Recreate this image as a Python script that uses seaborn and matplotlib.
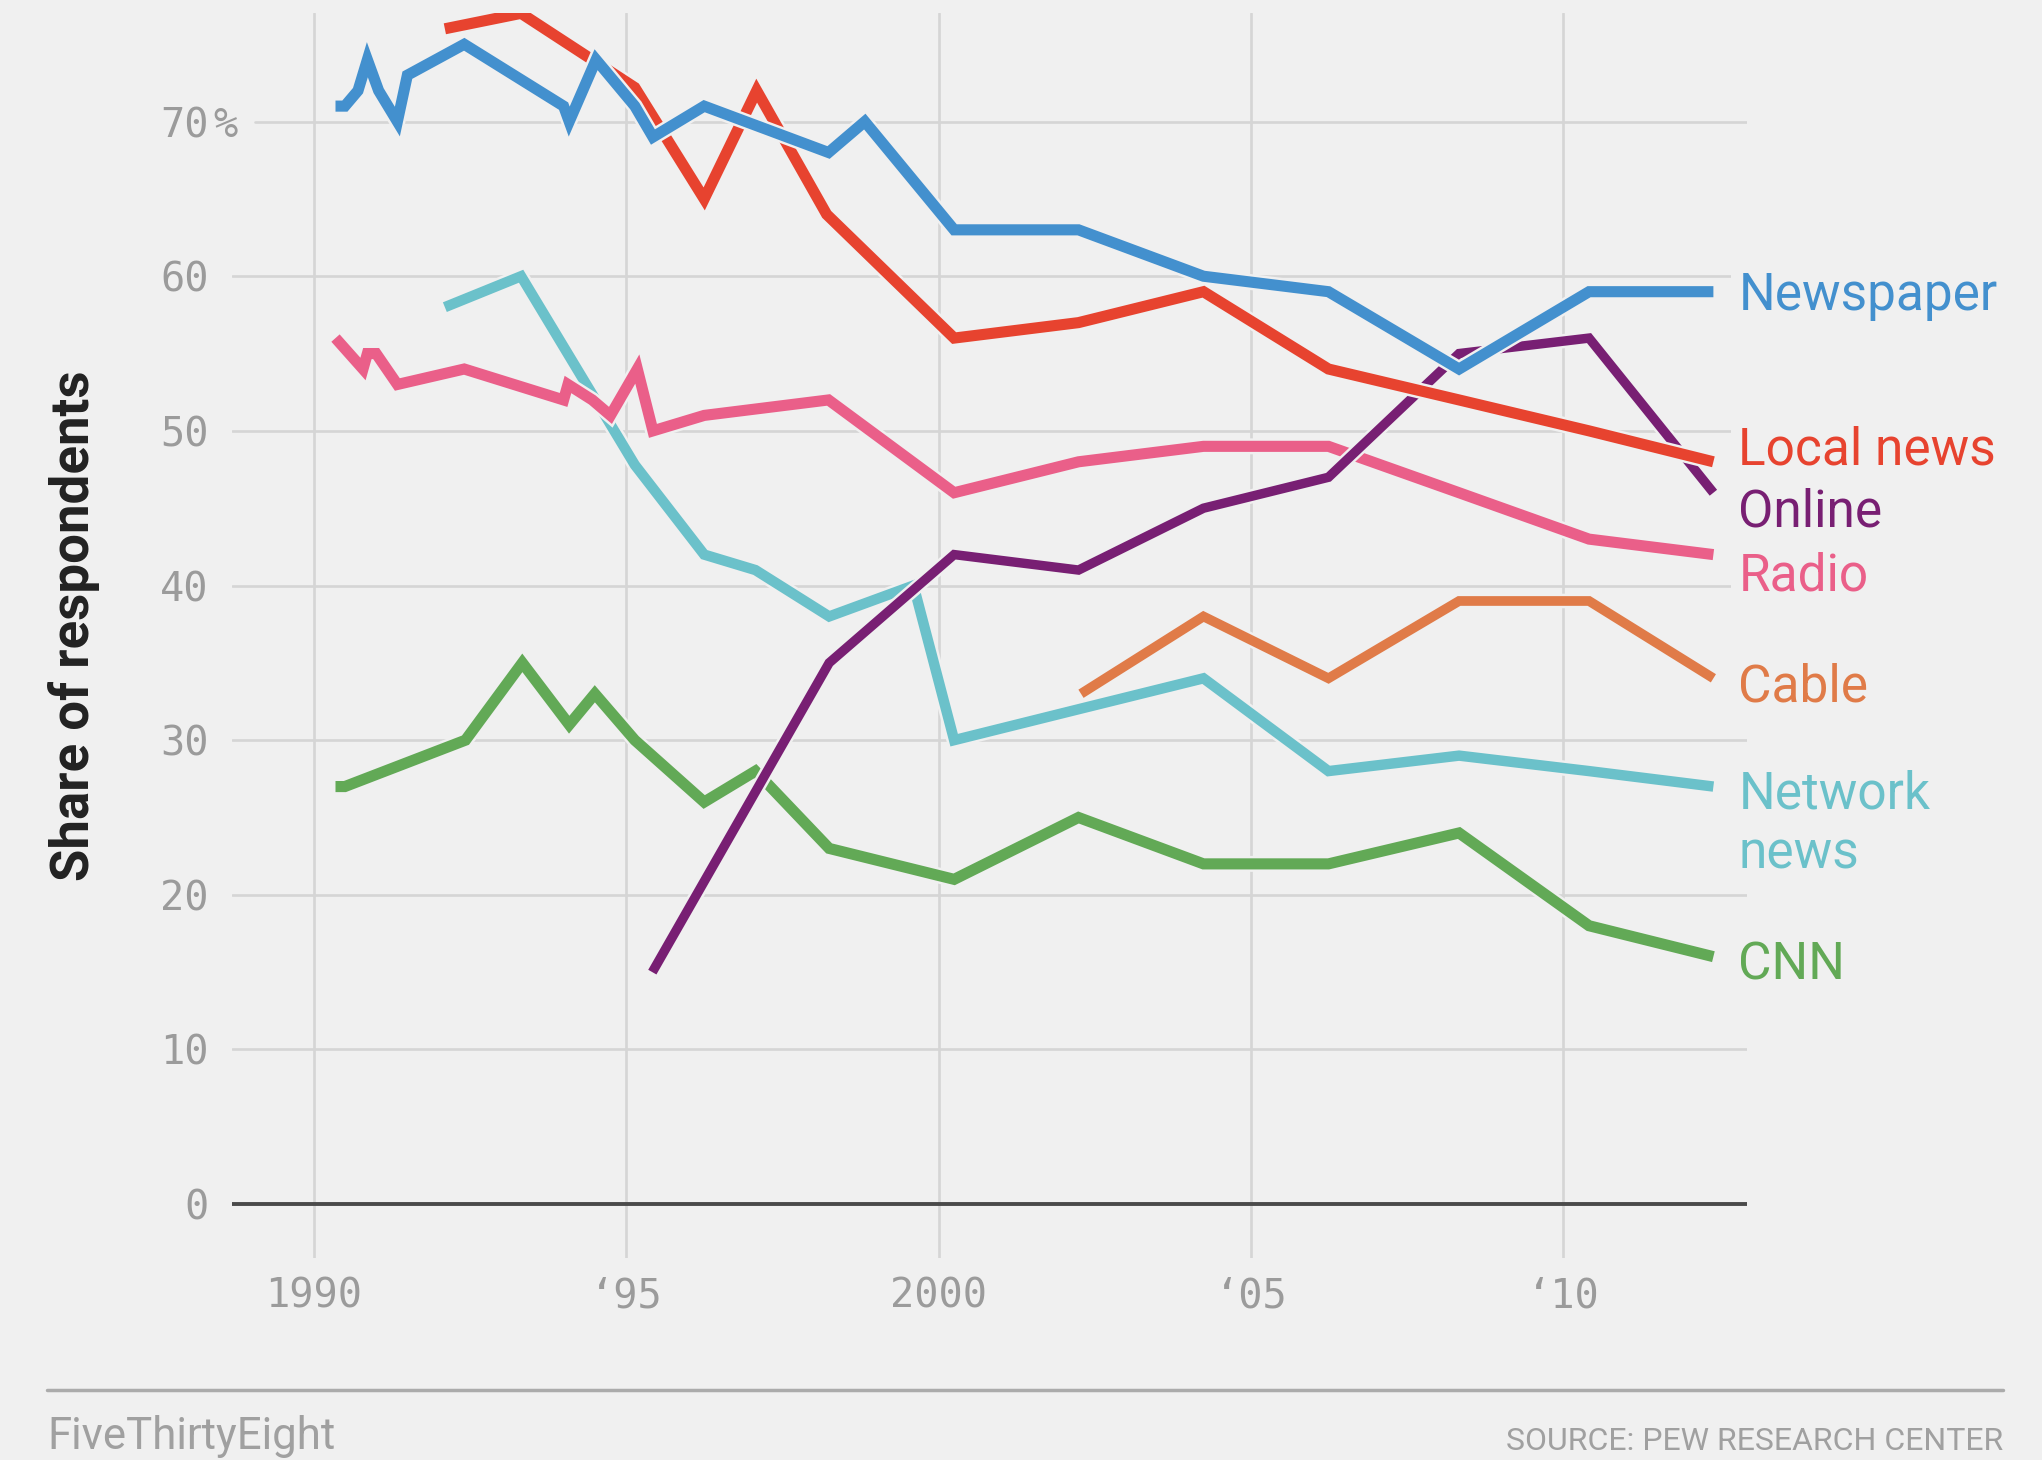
import matplotlib
matplotlib.use('Agg')
import matplotlib.pyplot as plt
import matplotlib.patheffects as pe
from matplotlib import font_manager
from matplotlib.lines import Line2D
import seaborn as sns

# 1. Data (survey date as decimal year, share in %).

newspaper_x = [1990.35, 1990.5, 1990.71, 1990.86, 1991.04, 1991.34, 1991.5, 1992.41, 1994.0,
               1994.09, 1994.52, 1995.14, 1995.43, 1996.25, 1998.24, 1998.82, 2000.25,
               2002.24, 2004.24, 2006.24, 2008.33, 2010.41, 2012.4]
newspaper_y = [71, 71, 72, 74, 72, 70, 73, 75, 71, 70, 74, 71, 69, 71, 68, 70, 63,
               63, 60, 59, 54, 59, 59]

local_x = [1992.1, 1993.32, 1995.14, 1996.25, 1997.09, 1998.21, 2000.25, 2002.24,
           2004.24, 2006.24, 2008.33, 2010.41, 2012.4]
local_y = [76, 77, 72.2, 65, 72, 64, 56, 57, 59, 54, 52, 50, 48]

online_x = [1995.42, 1998.25, 2000.25, 2002.24, 2004.24, 2006.24, 2008.33, 2010.41, 2012.4]
online_y = [15, 35, 42, 41, 45, 47, 55, 56, 46]

radio_x = [1990.35, 1990.79, 1990.86, 1991.0, 1991.34, 1992.41, 1994.0, 1994.07, 1994.46,
           1994.75, 1995.18, 1995.43, 1996.25, 1998.24, 2000.25, 2002.24, 2004.24,
           2006.24, 2008.33, 2010.41, 2012.4]
radio_y = [56, 54, 55, 55, 53, 54, 52, 53, 52, 51, 54, 50, 51, 52, 46, 48, 49, 49, 46, 43, 42]

cable_x = [2002.28, 2004.24, 2006.24, 2008.33, 2010.41, 2012.4]
cable_y = [33, 38, 34, 39, 39, 34]

network_x = [1992.1, 1993.32, 1995.14, 1996.25, 1997.07, 1998.25, 1999.6, 2000.25,
             2002.24, 2004.24, 2006.24, 2008.33, 2010.41, 2012.4]
network_y = [58, 60, 47.8, 42, 41, 38, 40, 30, 32, 34, 28, 29, 28, 27]

cnn_x = [1990.35, 1990.5, 1992.43, 1993.34, 1994.09, 1994.5, 1995.14, 1996.25, 1997.07,
         1998.25, 2000.25, 2002.24, 2004.24, 2006.24, 2008.33, 2010.41, 2012.4]
cnn_y = [27, 27, 30, 35, 31, 33, 30, 26, 28, 23, 21, 25, 22, 22, 24, 18, 16]

x_ticks = [1990, 1995, 2000, 2005, 2010]
x_tick_labels = ['1990', '\u201895', '2000', '\u201805', '\u201810']
y_ticks = [0, 10, 20, 30, 40, 50, 60, 70]
y_tick_labels = ['0', '10', '20', '30', '40', '50', '60', '70']

# drawing order bottom -> top, colours and widths
series = [
    ('CNN', cnn_x, cnn_y, '#62a956', 8.0),
    ('Network news', network_x, network_y, '#6bc1ca', 7.5),
    ('Radio', radio_x, radio_y, '#ea5f89', 8.0),
    ('Online', online_x, online_y, '#781f73', 6.8),
    ('Cable', cable_x, cable_y, '#e07b48', 7.0),
    ('Local news', local_x, local_y, '#e7432f', 8.0),
    ('Newspaper', newspaper_x, newspaper_y, '#4390ce', 8.0),
]

# label baselines on the right edge
labels = [
    ('Newspaper', 57.8, '#4390ce'),
    ('Local news', 47.8, '#e7432f'),
    ('Online', 43.8, '#781f73'),
    ('Radio', 39.7, '#ea5f89'),
    ('Cable', 32.5, '#e07b48'),
    ('Network', 25.6, '#6bc1ca'),
    ('news', 21.7, '#6bc1ca'),
    ('CNN', 14.5, '#62a956'),
]

# 2. Style.

BG = '#f0f0f0'
GRID = '#d5d5d5'
TICK = '#9b9b9b'
sns.set_theme(style='white', rc={'axes.facecolor': BG, 'figure.facecolor': BG})
plt.rcParams['font.family'] = ['Roboto', 'DejaVu Sans']

names = {f.name for f in font_manager.fontManager.ttflist}

fig = plt.figure(figsize=(20.42, 14.6), dpi=100)
ax = fig.add_axes([0.1135, 0.1382, 0.7421, 0.8532])

# 3. Lines.

for i, (name, xs, ys, color, lw) in enumerate(series):
    sns.lineplot(x=xs, y=ys, ax=ax, color=color, lw=lw, estimator=None, sort=False,
                 solid_capstyle='butt', solid_joinstyle='miter', zorder=3 + i,
                 path_effects=[pe.Stroke(linewidth=lw + 3.5, foreground=BG), pe.Normal()])

# 4. Axes, grid, ticks.

ax.set_xlim(1988.69, 2012.94)
ax.set_ylim(-3.5, 77.05)
ax.set_xlabel('')
ax.set_ylabel('')
for s in ax.spines.values():
    s.set_visible(False)

for yr in x_ticks:
    ax.axvline(yr, color=GRID, lw=1.9, zorder=0.5)
for v in y_ticks[1:]:
    ax.axhline(v, xmin=0.0154 if v == 70 else 0, color=GRID, lw=1.9, zorder=0.5)
ax.axhline(0, color='#4a4a4a', lw=2.8, zorder=1)

ax.set_xticks(x_ticks)
ax.set_xticklabels(x_tick_labels)
ax.set_yticks(y_ticks)
ax.set_yticklabels(y_tick_labels)
ax.tick_params(axis='both', length=0, labelsize=29, labelcolor=TICK)
ax.tick_params(axis='y', pad=16.8)
ax.tick_params(axis='x', pad=13)
for lbl in ax.get_xticklabels() + ax.get_yticklabels():
    lbl.set_family('DejaVu Sans Mono')
ax.text(-0.0123, 70, '%', transform=ax.get_yaxis_transform(), ha='left',
        va='center_baseline', fontsize=29, color=TICK, family='DejaVu Sans Mono')

# 5. Labels at line ends.

for text, yb, color in labels:
    ax.text(2012.80, yb, text, ha='left', va='baseline', fontsize=37, color=color,
            clip_on=False, zorder=20,
            bbox=dict(boxstyle='square,pad=0.15', facecolor=BG, edgecolor='none'))

fig.text(74 / 2042, 1 - 625.5 / 1460, 'Share of respondents', rotation=90, ha='center',
         va='center', fontsize=38, fontweight='bold', color='#222222')

# 6. Footer.

fig.add_artist(Line2D([47 / 2042, 2003 / 2042], [1 - 1389.6 / 1460] * 2,
                      color='#ababab', lw=2.5))
foot_y = 1 - 1449.5 / 1460
fig.text(47 / 2042, foot_y, 'FiveThirtyEight', ha='left', va='baseline', fontsize=31.5,
         color='#a0a0a0')
if 'Liberation Sans Narrow' in names:
    fig.text(2003 / 2042, foot_y, 'SOURCE: PEW RESEARCH CENTER', ha='right', va='baseline',
             fontsize=27, color='#a0a0a0', family=['Liberation Sans Narrow', 'DejaVu Sans'])
else:
    fig.text(2003 / 2042, foot_y, 'SOURCE: PEW RESEARCH CENTER', ha='right', va='baseline',
             fontsize=23, color='#a0a0a0')

fig.savefig('out.png', dpi=100, facecolor=BG)
